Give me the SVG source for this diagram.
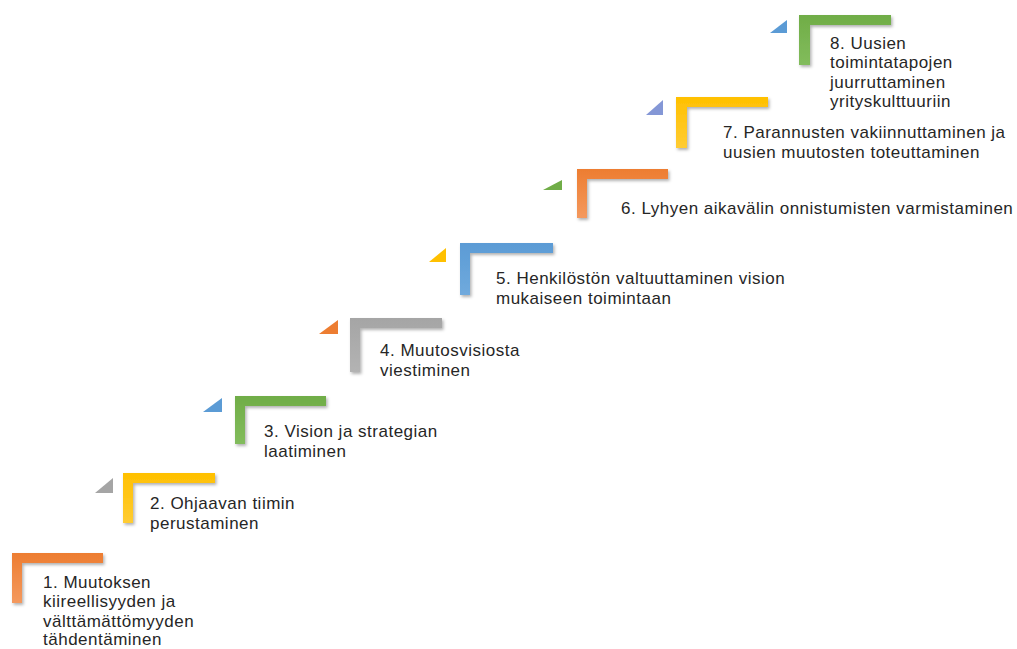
<svg xmlns="http://www.w3.org/2000/svg" width="1017" height="649" viewBox="0 0 1017 649">
<defs>
<filter id="sh" x="-20%" y="-20%" width="150%" height="150%">
<feDropShadow dx="1.5" dy="2" stdDeviation="1.5" flood-color="#000" flood-opacity="0.3"/>
</filter>
<linearGradient id="gO" x1="0" y1="0" x2="0" y2="1"><stop offset="0" stop-color="#ED7D31"/><stop offset="1" stop-color="#F4995E"/></linearGradient>
<linearGradient id="gY" x1="0" y1="0" x2="0" y2="1"><stop offset="0" stop-color="#FFC000"/><stop offset="1" stop-color="#FFCC33"/></linearGradient>
<linearGradient id="gG" x1="0" y1="0" x2="0" y2="1"><stop offset="0" stop-color="#70AD47"/><stop offset="1" stop-color="#82BC5C"/></linearGradient>
<linearGradient id="gA" x1="0" y1="0" x2="0" y2="1"><stop offset="0" stop-color="#A5A5A5"/><stop offset="1" stop-color="#B3B3B3"/></linearGradient>
<linearGradient id="gB" x1="0" y1="0" x2="0" y2="1"><stop offset="0" stop-color="#5B9BD5"/><stop offset="1" stop-color="#70AADD"/></linearGradient>
</defs>
<style>
.L{filter:url(#sh)}
.t{font-family:"Liberation Sans",Arial,sans-serif;font-size:17px;letter-spacing:0.5px;fill:#262626}
</style>
<g id="step1">
<path class="L" fill="url(#gO)" d="M12 553h91v10h-81v40h-10z"/>
<text class="t" x="43" y="587.5">1. Muutoksen</text>
<text class="t" x="43" y="607">kiireellisyyden ja</text>
<text class="t" x="43" y="626.5">välttämättömyyden</text>
<text class="t" x="43" y="645.3">tähdentäminen</text>
</g>
<g id="step2">
<polygon fill="#A5A5A5" points="95,493 113,478 113,493"/>
<path class="L" fill="url(#gY)" d="M123 473h92v10h-82v40h-10z"/>
<text class="t" x="150" y="509">2. Ohjaavan tiimin</text>
<text class="t" x="150" y="528.6">perustaminen</text>
</g>
<g id="step3">
<polygon fill="#5B9BD5" points="203,412 222,398 222,412"/>
<path class="L" fill="url(#gG)" d="M235 396h91v10h-81v38h-10z"/>
<text class="t" x="264" y="437">3. Vision ja strategian</text>
<text class="t" x="264" y="456.6">laatiminen</text>
</g>
<g id="step4">
<polygon fill="#ED7D31" points="319,334 338,320 338,334"/>
<path class="L" fill="url(#gA)" d="M350 318h92v10h-82v44h-10z"/>
<text class="t" x="380" y="356">4. Muutosvisiosta</text>
<text class="t" x="380" y="375.6">viestiminen</text>
</g>
<g id="step5">
<polygon fill="#FFC000" points="429,262 446,248 446,262"/>
<path class="L" fill="url(#gB)" d="M460 243h93v10h-83v42h-10z"/>
<text class="t" x="496" y="284">5. Henkilöstön valtuuttaminen vision</text>
<text class="t" x="496" y="303.6">mukaiseen toimintaan</text>
</g>
<g id="step6">
<polygon fill="#70AD47" points="543,190 562,180 562,190"/>
<path class="L" fill="url(#gO)" d="M577 169h91v10h-81v39h-10z"/>
<text class="t" x="621" y="214">6. Lyhyen aikavälin onnistumisten varmistaminen</text>
</g>
<g id="step7">
<polygon fill="#8497D6" points="646,115 663,100 663,115"/>
<path class="L" fill="url(#gY)" d="M676 97h92v10h-81v41h-11z"/>
<text class="t" x="723" y="138">7. Parannusten vakiinnuttaminen ja</text>
<text class="t" x="723" y="157.6">uusien muutosten toteuttaminen</text>
</g>
<g id="step8">
<polygon fill="#5B9BD5" points="770,33 787,20 787,33"/>
<path class="L" fill="url(#gG)" d="M799 15h92v10h-81v40h-11z"/>
<text class="t" x="830" y="48.5">8. Uusien</text>
<text class="t" x="830" y="68.1">toimintatapojen</text>
<text class="t" x="830" y="87.7">juurruttaminen</text>
<text class="t" x="830" y="107.3">yrityskulttuuriin</text>
</g>
</svg>
